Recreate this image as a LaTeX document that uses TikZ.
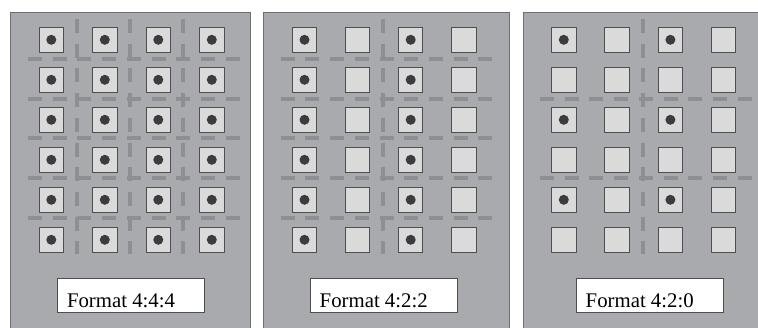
\documentclass[tikz,border=0pt]{standalone}
\usepackage{fontspec}
\setmainfont{Liberation Serif}
\definecolor{panelbg}{HTML}{A9AAAD}
\definecolor{panelrim}{HTML}{6E6F72}
\definecolor{gridc}{HTML}{8E8F92}
\definecolor{boxfill}{HTML}{DADADB}
\definecolor{boxrim}{HTML}{4E4E50}
\definecolor{dotc}{HTML}{3C3C3E}
\tikzset{
  panel/.style={fill=panelbg, draw=panelrim, line width=1pt},
  gridline/.style={draw=gridc, line width=4pt, dash pattern=on 14pt off 10.7pt},
  lumabox/.style={draw=boxrim, fill=boxfill, line width=1pt, minimum size=24.5pt, inner sep=0pt},
  chromadot/.style={fill=dotc},
  labelbox/.style={draw=boxrim, fill=white, line width=0.8pt, minimum width=146.7pt, minimum height=34pt, inner sep=0pt, anchor=north west},
  labeltext/.style={anchor=base west, inner sep=0pt, font=\fontsize{20.8}{24}\selectfont}
}
\begin{document}
\begin{tikzpicture}[x=1pt,y=-1pt]
\useasboundingbox (0,0) rectangle (758,327);
\clip (0,0) rectangle (758,327);
% ---------- Panel 1: 4:4:4 ----------
\begin{scope}[xshift=10.6pt]
  \draw[panel] (0,12.3) rectangle (239.5,340);
  \foreach \y in {59,98.7,138.4,178.3,218.3}
    \draw[gridline] (17.4,\y) -- (229.4,\y);
  \foreach \x in {66.7,119.7,172.7}
    \draw[gridline] (\x,19) -- (\x,254.3);
  \foreach \c in {0,...,3}
    \foreach \r in {0,...,5} {
      \node[lumabox] (pa-\c-\r) at ({40.7+53.5*\c},{39.8+40*\r}) {};
      \fill[chromadot] (pa-\c-\r.center) circle (5pt);
    }
  \node[labelbox] (la) at (46.7,278.3) {};
  \node[labeltext] (lat) at ([xshift=9.5pt,yshift=5.8pt]la.south west) {Format 4:4:4};
\end{scope}
% ---------- Panel 2: 4:2:2 ----------
\begin{scope}[xshift=263.3pt]
  \draw[panel] (0,12.3) rectangle (246.5,340);
  \foreach \y in {59,98.7,138.4,178.3,218.3}
    \draw[gridline] (17.4,\y) -- (229.4,\y);
  \draw[gridline] (120,19) -- (120,254.3);
  \foreach \c in {0,...,3}
    \foreach \r in {0,...,5}
      \node[lumabox] (pb-\c-\r) at ({41.2+53.1*\c},{39.8+40*\r}) {};
  \foreach \c in {0,2}
    \foreach \r in {0,...,5}
      \fill[chromadot] (pb-\c-\r.center) circle (5pt);
  \node[labelbox] (lb) at (46.7,278.3) {};
  \node[labeltext] (lbt) at ([xshift=9.5pt,yshift=5.8pt]lb.south west) {Format 4:2:2};
\end{scope}
% ---------- Panel 3: 4:2:0 ----------
\begin{scope}[xshift=523.3pt]
  \draw[panel] (0,12.3) rectangle (250,340);
  \foreach \y in {98.7,178.3}
    \draw[gridline] (16.7,\y) -- (228.4,\y);
  \draw[gridline] (119.4,19) -- (119.4,254.3);
  \foreach \c in {0,...,3}
    \foreach \r in {0,...,5}
      \node[lumabox] (pc-\c-\r) at ({40.5+53.3*\c},{39.8+40*\r}) {};
  \foreach \c in {0,2}
    \foreach \r in {0,2,4}
      \fill[chromadot] (pc-\c-\r.center) circle (5pt);
  \node[labelbox] (lc) at (52.7,278.3) {};
  \node[labeltext] (lct) at ([xshift=9.5pt,yshift=5.8pt]lc.south west) {Format 4:2:0};
\end{scope}
\end{tikzpicture}
\end{document}
